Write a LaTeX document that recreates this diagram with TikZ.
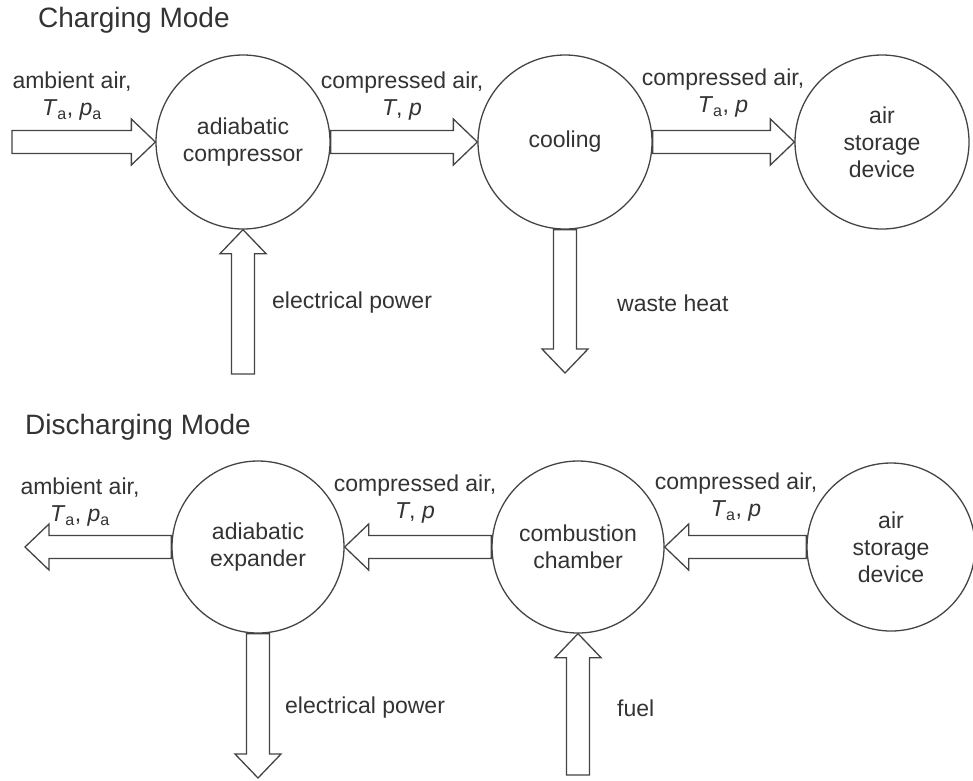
\documentclass[tikz,border=0pt]{standalone}
\usepackage{fontspec}
\setmainfont{Liberation Sans}
\usetikzlibrary{calc}
\definecolor{txt}{HTML}{333333}
\definecolor{ln}{HTML}{444444}
\newcommand\sw{11.5pt}
\newcommand\hw{23pt}
\newcommand\hl{24pt}
\newcommand\blockarr[2]{%
  \coordinate (hb) at ($(#2)!\hl!(#1)$);
  \draw[barrow] ($(#1)!\sw!90:(#2)$) -- ($(hb)!\sw!-90:(#1)$) -- ($(hb)!\hw!-90:(#1)$) -- (#2)
    -- ($(hb)!\hw!90:(#1)$) -- ($(hb)!\sw!90:(#1)$) -- ($(#1)!\sw!-90:(#2)$) -- cycle;
}
\begin{document}
\begin{tikzpicture}[x=1pt,y=-1pt,
  every node/.style={text=txt,font=\fontsize{23}{27}\selectfont},
  proc/.style={draw=ln,line width=1.3pt,circle,minimum size=174pt,inner sep=0pt,align=center},
  barrow/.style={draw=ln,line width=1.3pt,line join=miter,fill=white},
  lab/.style={align=center,inner sep=0pt},
  ttl/.style={font=\fontsize{28}{32}\selectfont,anchor=west,inner sep=0pt}]
\useasboundingbox (0,0) rectangle (973,780);
% ---------- Charging ----------
\node[ttl] (t1) at (38,20) {Charging Mode};
\node[proc] (c1) at (243,142) {adiabatic\\compressor};
\node[proc] (c2) at (565,142) {cooling};
\node[proc] (c3) at (882,142) {air\\storage\\device};
\coordinate (in1) at (12,142);
\coordinate (pw1) at (243,374);
\coordinate (wh) at (565,373);
\blockarr{in1}{c1.west}
\blockarr{c1.east}{c2.west}
\blockarr{c2.east}{c3.west}
\blockarr{pw1}{c1.south}
\blockarr{c2.south}{wh}
\node[lab] (l1) at (72,96) {ambient air,\\\textit{T}\textsubscript{a}, \textit{p}\textsubscript{a}};
\node[lab] (l2) at (402,96) {compressed air,\\\textit{T}, \textit{p}};
\node[lab] (l3) at (723,93) {compressed air,\\\textit{T}\textsubscript{a}, \textit{p}};
\node[lab,anchor=west] (l4) at (272,303) {electrical power};
\node[lab,anchor=west] (l5) at (617,303) {waste heat};
% ---------- Discharging ----------
\node[ttl] (t2) at (25,427) {Discharging Mode};
\node[proc,minimum size=172pt] (e1) at (258,547) {adiabatic\\expander};
\node[proc,minimum size=172pt] (e2) at (578,547) {combustion\\chamber};
\node[proc,minimum size=168pt] (e3) at (891,547) {air\\storage\\device};
\coordinate (out1) at (25,547);
\coordinate (pw2) at (258,778);
\coordinate (fu) at (578,775);
\blockarr{e1.west}{out1}
\blockarr{e2.west}{e1.east}
\blockarr{e3.west}{e2.east}
\blockarr{e1.south}{pw2}
\blockarr{fu}{e2.south}
\node[lab] (m1) at (80,502) {ambient air,\\\textit{T}\textsubscript{a}, \textit{p}\textsubscript{a}};
\node[lab] (m2) at (415,499) {compressed air,\\\textit{T}, \textit{p}};
\node[lab] (m3) at (736,497) {compressed air,\\\textit{T}\textsubscript{a}, \textit{p}};
\node[lab,anchor=west] (m4) at (285,708) {electrical power};
\node[lab,anchor=west] (m5) at (617,708) {fuel};
\end{tikzpicture}
\end{document}
